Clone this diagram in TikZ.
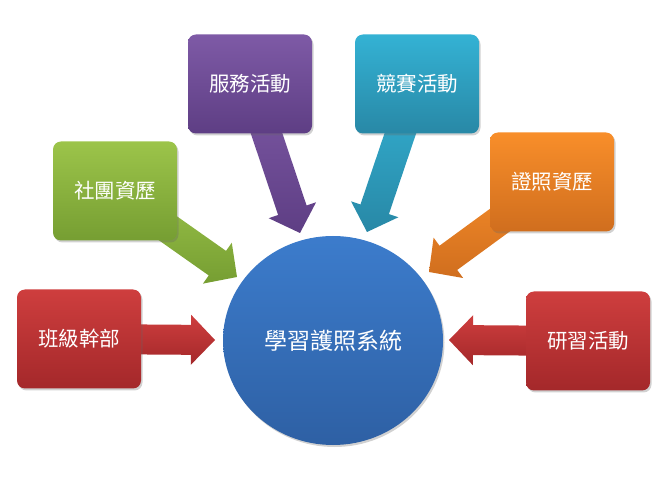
\documentclass[tikz,border=0pt]{standalone}
\usepackage{fontspec}
\newfontfamily\cjk{Noto Sans CJK TC}
\usetikzlibrary{calc,shadows,backgrounds,shapes.geometric}
\definecolor{redT}{RGB}{206,62,62}
\definecolor{redB}{RGB}{164,40,42}
\definecolor{grnT}{RGB}{156,196,74}
\definecolor{grnB}{RGB}{118,158,50}
\definecolor{purT}{RGB}{126,90,166}
\definecolor{purB}{RGB}{94,62,132}
\definecolor{tealT}{RGB}{52,178,212}
\definecolor{tealB}{RGB}{40,136,166}
\definecolor{orgT}{RGB}{248,142,42}
\definecolor{orgB}{RGB}{208,110,30}
\definecolor{bluT}{RGB}{60,124,204}
\definecolor{bluB}{RGB}{46,96,164}
\tikzset{
  box/.style={rounded corners=8pt, minimum width=124pt, minimum height=99pt,
    inner sep=0pt, text=white, font=\cjk\fontsize{20.5}{24}\selectfont,
    drop shadow={shadow xshift=1.5pt, shadow yshift=-2pt, opacity=0.3, fill=black!60}},
  hub/.style={ellipse, minimum width=220pt, minimum height=209pt, inner sep=0pt,
    text=white, font=\cjk\fontsize{23}{26}\selectfont,
    drop shadow={shadow xshift=1.5pt, shadow yshift=-2pt, opacity=0.3, fill=black!60}},
}
\newcommand\blkarrow[4]{%
  \coordinate (hb) at ($(#2)!24pt!(#1)$);
  \shade[top color=#3, bottom color=#4]
    ($(#1)!15pt!90:(#2)$) -- ($(hb)!15pt!90:(#2)$) -- ($(hb)!25pt!90:(#2)$) -- (#2)
    -- ($(hb)!25pt!-90:(#2)$) -- ($(hb)!15pt!-90:(#2)$) -- ($(#1)!15pt!-90:(#2)$) -- cycle;
}
\begin{document}
\begin{tikzpicture}[x=1pt,y=-1pt]
\useasboundingbox (0,0) rectangle (667,478);
% boxes
\node[box, top color=redT, bottom color=redB] (ban) at (79,339) {班級幹部};
\node[box, top color=grnT, bottom color=grnB] (she) at (115,191) {社團資歷};
\node[box, top color=purT, bottom color=purB] (fu) at (250,84) {服務活動};
\node[box, top color=tealT, bottom color=tealB] (jing) at (417,84) {競賽活動};
\node[box, top color=orgT, bottom color=orgB] (zheng) at (552,182) {證照資歷};
\node[box, top color=redT, bottom color=redB] (yan) at (588,341) {研習活動};
% hub
\node[hub, top color=bluT, bottom color=bluB] (hub) at (333,340.5) {學習護照系統};
% arrow tips
\coordinate (tBan) at (215,340);
\coordinate (tShe) at (237,277);
\coordinate (tFu) at (300,233);
\coordinate (tJing) at (367,232);
\coordinate (tZheng) at (429,272);
\coordinate (tYan) at (449,340);
\begin{pgfonlayer}{background}
\blkarrow{ban}{tBan}{redT}{redB}
\blkarrow{she}{tShe}{grnT}{grnB}
\blkarrow{fu}{tFu}{purT}{purB}
\blkarrow{jing}{tJing}{tealT}{tealB}
\blkarrow{zheng}{tZheng}{orgT}{orgB}
\blkarrow{yan}{tYan}{redT}{redB}
\end{pgfonlayer}
\end{tikzpicture}
\end{document}
